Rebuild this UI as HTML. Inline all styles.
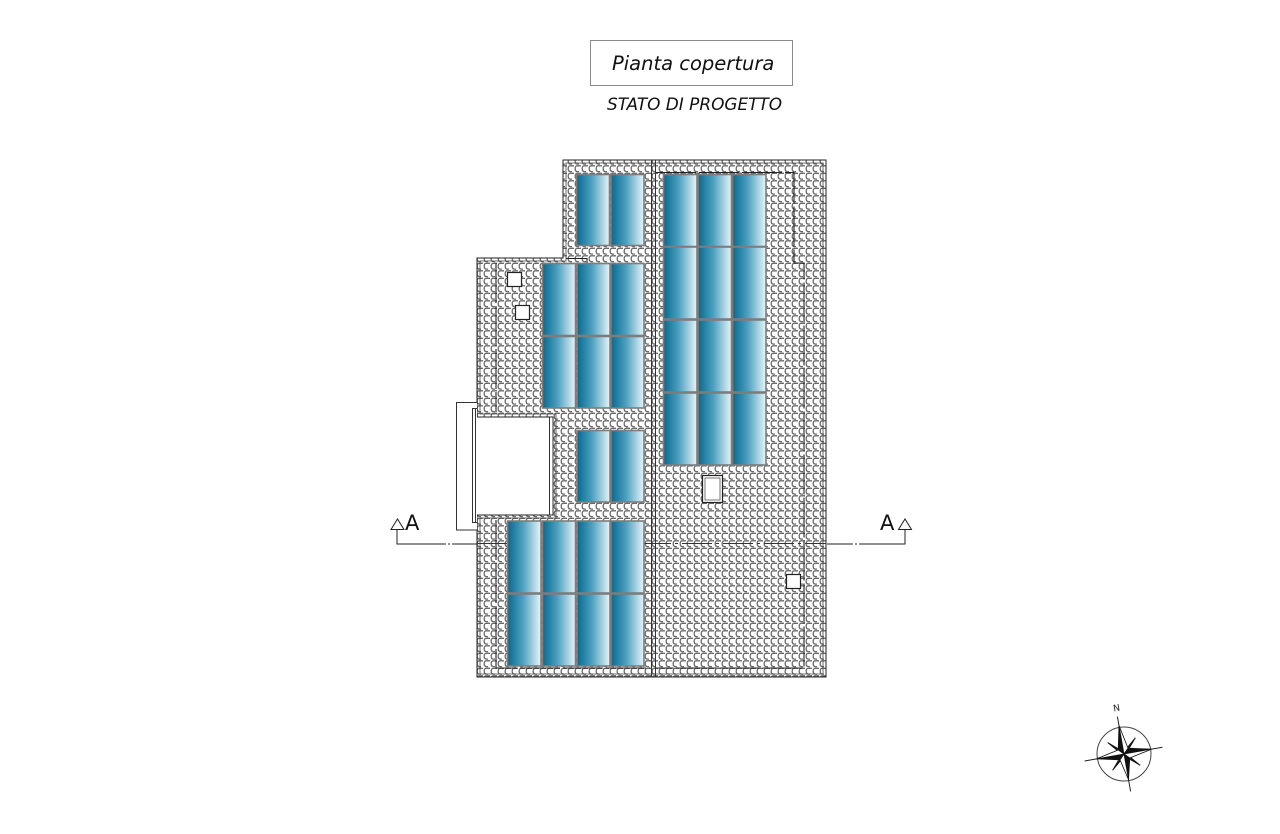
<!DOCTYPE html>
<html><head><meta charset="utf-8"><style>
html,body{margin:0;padding:0;background:#fff;}
svg{display:block;}
</style></head><body>
<svg width="1280" height="834" viewBox="0 0 1280 834" xmlns="http://www.w3.org/2000/svg">
<defs>
  <pattern id="tile" x="0" y="0" width="7" height="7.5" patternUnits="userSpaceOnUse">
    <rect width="7" height="7.5" fill="#fff"/>
    <path d="M7,0.8 H3.2 Q1.2,0.8 1.2,3.8 Q1.2,6.6 3.4,6.6 H5" fill="none" stroke="#6a6a6a" stroke-width="1.3"/>
  </pattern>
  <linearGradient id="pg" x1="0" y1="0" x2="1" y2="0">
    <stop offset="0" stop-color="#076a90"/>
    <stop offset="0.45" stop-color="#4c9fbe"/>
    <stop offset="1" stop-color="#eaf4f7"/>
  </linearGradient>
</defs>

<!-- Title -->
<rect x="590.5" y="40.5" width="202" height="45" fill="none" stroke="#8a8a8a" stroke-width="1"/>
<text x="612" y="70" font-family="DejaVu Sans, Liberation Sans, sans-serif" font-style="italic" font-size="19.5" fill="#111">Pianta copertura</text>
<text x="607" y="110" font-family="DejaVu Sans, Liberation Sans, sans-serif" font-style="italic" font-size="16.9" fill="#111">STATO DI PROGETTO</text>

<!-- Roof tiled area -->
<polygon points="563,160 826,160 826,677 477,677 477,515 553,515 553,417 477,417 477,258 563,258" fill="url(#tile)" stroke="#222" stroke-width="1"/>
<polygon points="566,163 823,163 823,674 480,674 480,518 556,518 556,414 480,414 480,261 566,261" fill="none" stroke="#444" stroke-width="0.8"/>

<!-- ridge -->
<line x1="651.5" y1="160" x2="651.5" y2="677" stroke="#333" stroke-width="1"/>
<line x1="655.5" y1="160" x2="655.5" y2="677" stroke="#333" stroke-width="1"/>

<!-- inner eave lines -->
<g fill="none" stroke="#222" stroke-width="1.1">
  <polyline points="656,172.5 794,172.5 794,263 804,263 804,668 656,668" stroke-dasharray="40,3"/>
  <polyline points="566,258.5 587,258.5 587,263" />
  <line x1="496" y1="263" x2="496" y2="412" stroke-dasharray="40,3"/>
  <polyline points="496,520 496,668 650,668" stroke-dasharray="40,3"/>
</g>

<!-- terrace gap -->
<rect x="457" y="403" width="20" height="127" fill="#fff"/>
<polyline points="477,530 456.5,530 456.5,402.5 477,402.5" stroke="#333" fill="none"/>
<polyline points="477,408.5 472.5,408.5 472.5,522.5 477,522.5" stroke="#333" fill="none"/>
<line x1="475.5" y1="409" x2="475.5" y2="522" stroke="#333"/>
<line x1="549.5" y1="417" x2="549.5" y2="515" stroke="#333"/>
<line x1="553" y1="417" x2="553" y2="515" stroke="#333"/>

<!-- section cut across roof -->
<line x1="477" y1="543.5" x2="826" y2="543.5" stroke="#333" stroke-width="1" stroke-dasharray="30,4,3,4"/>

<!-- panels -->
<g fill="url(#pg)" stroke="#7d7d7d" stroke-width="1.6">
  <rect x="576.5" y="174.5" width="33" height="71"/>
  <rect x="611" y="174.5" width="33" height="71"/>
  <rect x="663.5" y="174.5" width="33.5" height="72"/>
  <rect x="698" y="174.5" width="33.5" height="72"/>
  <rect x="732.5" y="174.5" width="33.5" height="72"/>
  <rect x="663.5" y="247" width="33.5" height="72"/>
  <rect x="698" y="247" width="33.5" height="72"/>
  <rect x="732.5" y="247" width="33.5" height="72"/>
  <rect x="663.5" y="320" width="33.5" height="72"/>
  <rect x="698" y="320" width="33.5" height="72"/>
  <rect x="732.5" y="320" width="33.5" height="72"/>
  <rect x="663.5" y="393" width="33.5" height="72"/>
  <rect x="698" y="393" width="33.5" height="72"/>
  <rect x="732.5" y="393" width="33.5" height="72"/>
  <rect x="542.5" y="263.5" width="33" height="72"/>
  <rect x="577" y="263.5" width="33" height="72"/>
  <rect x="611" y="263.5" width="33" height="72"/>
  <rect x="542.5" y="336.5" width="33" height="71.5"/>
  <rect x="577" y="336.5" width="33" height="71.5"/>
  <rect x="611" y="336.5" width="33" height="71.5"/>
  <rect x="577" y="430.5" width="33" height="71.5"/>
  <rect x="611" y="430.5" width="33" height="71.5"/>
  <rect x="507.5" y="521" width="33.5" height="72"/>
  <rect x="542.5" y="521" width="33" height="72"/>
  <rect x="577" y="521" width="33" height="72"/>
  <rect x="611" y="521" width="33" height="72"/>
  <rect x="507.5" y="594" width="33.5" height="72"/>
  <rect x="542.5" y="594" width="33" height="72"/>
  <rect x="577" y="594" width="33" height="72"/>
  <rect x="611" y="594" width="33" height="72"/>
</g>

<!-- skylights / chimneys -->
<g fill="#fff" stroke="#222" stroke-width="1.2">
  <rect x="507.5" y="272.5" width="14" height="14"/>
  <rect x="515.5" y="305.5" width="14" height="14"/>
  <rect x="702.5" y="475.5" width="20" height="27"/>
  <rect x="786.5" y="574.5" width="14" height="14"/>
</g>
<rect x="705" y="478" width="15" height="22" fill="#fff" stroke="#555" stroke-width="0.8"/>

<!-- section markers -->
<g stroke="#222" fill="none" stroke-width="1">
  <polyline points="397,530 397,544 477,544"/>
  <polygon points="391,529.5 404,529.5 397.5,519" fill="#fff"/>
  <polyline points="905,530 905,544 827,544"/>
  <polygon points="898.5,529.5 911.5,529.5 905,519" fill="#fff"/>
</g>
<line x1="420" y1="544" x2="477" y2="544" stroke="#fff" stroke-width="1.4" stroke-dasharray="0,26,2,2,2,100"/>
<line x1="827" y1="544" x2="886" y2="544" stroke="#fff" stroke-width="1.4" stroke-dasharray="0,26,2,2,2,100"/>
<text x="405" y="530" font-family="DejaVu Sans, Liberation Sans, sans-serif" font-size="21" fill="#111">A</text>
<text x="880" y="530" font-family="DejaVu Sans, Liberation Sans, sans-serif" font-size="21" fill="#111">A</text>

<!-- compass -->
<g transform="translate(1124,754)">
  <circle r="27" fill="none" stroke="#444" stroke-width="1"/>
  <g transform="rotate(-10)">
    <line x1="0" y1="-38" x2="0" y2="38" stroke="#222" stroke-width="1"/>
    <line x1="-40" y1="0" x2="39" y2="0" stroke="#222" stroke-width="1"/>
    <g stroke="#111" stroke-width="0.8">
      <polygon points="0,0 -14,-14 -3,-1" fill="#111"/>
      <polygon points="0,0 -14,-14 -1,-3" fill="#fff"/>
      <polygon points="0,0 14,-14 1,-3" fill="#111"/>
      <polygon points="0,0 14,-14 3,-1" fill="#fff"/>
      <polygon points="0,0 14,14 3,1" fill="#111"/>
      <polygon points="0,0 14,14 1,3" fill="#fff"/>
      <polygon points="0,0 -14,14 -1,3" fill="#111"/>
      <polygon points="0,0 -14,14 -3,1" fill="#fff"/>
    </g>
    <g stroke="#111" stroke-width="0.8">
      <polygon points="0,-29 -5,-5 0,0" fill="#111"/>
      <polygon points="0,-29 5,-5 0,0" fill="#fff"/>
      <polygon points="28,0 5,-5 0,0" fill="#111"/>
      <polygon points="28,0 5,5 0,0" fill="#fff"/>
      <polygon points="0,26 5,5 0,0" fill="#111"/>
      <polygon points="0,26 -5,5 0,0" fill="#fff"/>
      <polygon points="-28,0 -5,5 0,0" fill="#111"/>
      <polygon points="-28,0 -5,-5 0,0" fill="#fff"/>
    </g>
  </g>
  <text x="-11" y="-43" font-family="DejaVu Sans, Liberation Sans, sans-serif" font-size="9" fill="#222" transform="rotate(-10 -8 -47)">N</text>
</g>
</svg>
</body></html>
